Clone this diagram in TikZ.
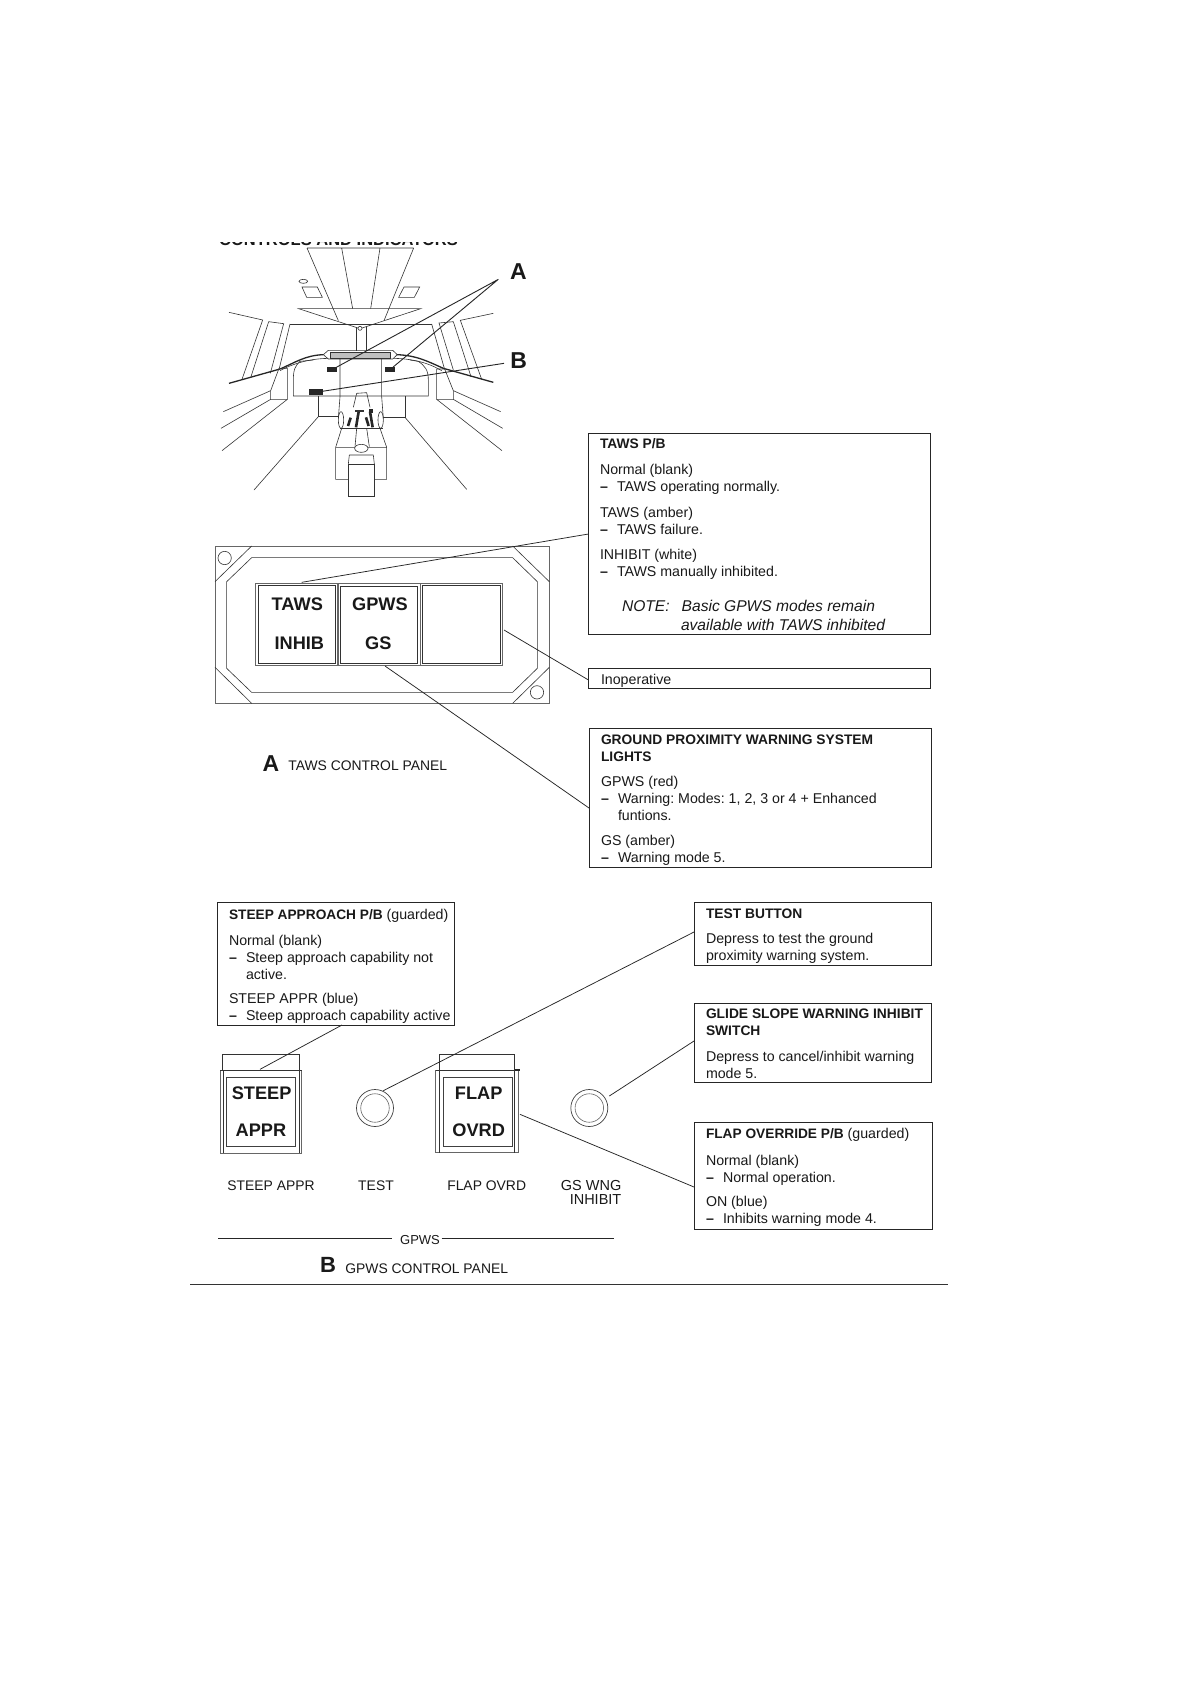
\documentclass[tikz,border=0pt]{standalone}
\usepackage{fontspec}
\setmainfont{Liberation Sans}
\frenchspacing
\newcommand{\dashitem}{\rlap{\textbf{--}}\hspace{17pt}}
\tikzset{
  x=1pt,y=-1pt,
  infobox/.style={draw=black!85,line width=1pt,fill=none,anchor=north west,inner sep=0pt,outer sep=0pt},
  body/.style={anchor=north west,inner sep=0pt,outer sep=0pt,font=\fontsize{14.2}{17}\selectfont\frenchspacing,align=left,text=black!90},
  headtxt/.style={body,font=\fontsize{13.8}{17}\bfseries\selectfont},
  notetxt/.style={body,font=\fontsize{15.6}{18.8}\itshape\selectfont\frenchspacing},
  lbl/.style={anchor=center,inner sep=0pt,outer sep=0pt,font=\fontsize{13.9}{14}\selectfont,text=black!90,align=right},
  bigletter/.style={anchor=center,inner sep=0pt,outer sep=0pt,font=\fontsize{23}{23}\bfseries\selectfont,text=black!90},
  keytxt/.style={anchor=center,inner sep=0pt,outer sep=0pt,font=\fontsize{18.2}{18}\bfseries\selectfont,text=black!90},
  leadline/.style={draw=black!85,line width=.75pt},
  fine/.style={draw=black!80,line width=.6pt},
  gr/.style={draw=black!60,line width=.9pt},
  sect/.style={fill=black!85},
  slat/.style={draw=black!85,line width=2.6pt},
}
\begin{document}
\begin{tikzpicture}
\useasboundingbox[fill=white] (0,0) rectangle (1190,1684);
% clipped heading
\begin{scope}
\clip (200,242) rectangle (480,245.5);
\node[anchor=base west,inner sep=0pt,font=\fontsize{16.5}{16}\bfseries\selectfont,text=black!90] (head) at (219,245.5) {CONTROLS AND INDICATORS};
\end{scope}
% cockpit sketch, in zoom coordinates
\begin{scope}[shift={(180,220)},scale=0.33333]
\draw[fine] (381,84) -- (701,84) (381,84) -- (475,302) (701,84) -- (612,302)
  (485,84) -- (518,266) (600,84) -- (572,266);
\draw[fine] (356,266) -- (722,266) -- (540,326) -- cycle;
\draw[fine] (370,184) ellipse (13 and 6);
\draw[fine] (366,201) -- (412,201) -- (427,232) -- (380,232) -- cycle;
\draw[fine] (672,201) -- (719,201) -- (703,232) -- (656,232) -- cycle;
\draw[fine] (147,277) -- (248,300) -- (186,478)
  (266,305) -- (311,311) -- (271,460) (266,305) -- (213,470);
\draw[fine] (940,280) -- (841,301) -- (905,478)
  (820,305) -- (777,309) -- (820,450) (820,305) -- (873,470);
\draw[fine] (330,312) -- (755,312);
\draw[fine] (330,312) -- (298,445) (755,312) -- (793,445);
\draw[fine] (528,322) -- (528,392) (558,322) -- (558,392);
\draw[fine,fill=white] (540,325) circle (6);
\draw[black!85,line width=1.3pt] (147,490) -- (300,447) .. controls (345,428) and (375,406) .. (430,404);
\draw[fine] (300,452) .. controls (350,425) and (400,416) .. (445,415);
\draw[black!85,line width=1.3pt] (940,487) -- (790,445) .. controls (745,425) and (710,406) .. (650,404);
\draw[fine] (785,452) .. controls (740,425) and (690,416) .. (640,415);
\draw[fine] (430,404) -- (445,391) -- (638,391) -- (652,404) -- (638,417) -- (445,417) -- cycle;
\draw[fine,fill=black!25] (452,397) rectangle (632,414);
\draw[fine] (400,420) -- (360,424) .. controls (345,438) and (340,450) .. (340,480) -- (340,528) -- (745,528) -- (745,480) .. controls (745,450) and (735,438) .. (715,424) -- (690,420);
\draw[fine] (480,417) -- (480,530) -- (475,595) (605,417) -- (605,530) -- (610,595);
\draw[fine] (415,528) -- (415,590) -- (475,590) (675,528) -- (675,592) -- (610,592);
\draw[fine] (297,445) -- (322,445) -- (322,538) -- (272,538) -- (272,512) -- (297,445);
\draw[fine] (770,447) -- (794,447) -- (820,512) -- (820,538) -- (770,538) -- cycle;
\draw[fine] (272,512) -- (130,575) (272,538) -- (123,625) (322,538) -- (126,692);
\draw[fine] (820,512) -- (962,575) (820,538) -- (968,625) (770,538) -- (966,692);
\draw[fine] (415,590) -- (222,810) (675,592) -- (860,808);
% throttle console
\draw[fine] (520,562) -- (530,520) -- (560,518) -- (570,562);
\draw[fine] (480,625) -- (610,625);
\draw[fine] (483,600) ellipse (8 and 25) (602,600) ellipse (8 and 25);
\draw[fine] (485,625) -- (467,682) -- (467,778) -- (505,778) (600,625) -- (620,682) -- (620,778) -- (583,778) (467,682) -- (620,682);
\draw[fine] (530,625) -- (525,680) (560,625) -- (568,680);
\draw[slat] (504,618) -- (512,593);
\draw[slat] (528,622) -- (536,575);
\draw[slat] (558,592) -- (566,618);
\draw[slat] (578,622) -- (570,575);
\draw[fine] (525,570) rectangle (550,575);
\fill[black!85] (568,568) rectangle (580,578);
\draw[fine] (508,705) -- (580,705) (508,705) -- (505,732) (580,705) -- (583,732);
\draw[fine] (505,732) rectangle (583,828);
\draw[fine,fill=white] (544,685) ellipse (20 and 12);
\node[sect,inner sep=0pt,minimum width=9.3pt,minimum height=4.6pt] (pa) at (456,449) {};
\node[sect,inner sep=0pt,minimum width=9.3pt,minimum height=4.6pt] (pb) at (630,449) {};
\node[sect,inner sep=0pt,minimum width=14pt,minimum height=6pt] (pc) at (407,517) {};
\coordinate (la) at (955,178);
\coordinate (lb) at (972,430);
\node[bigletter] (A) at (1015,156) {A};
\node[bigletter] (B) at (1016,423) {B};
\draw[draw=black!85,line width=.9pt] (pa) -- (la) -- (pb);
\draw[draw=black!85,line width=.9pt] (pc) -- (lb);
\end{scope}
% TAWS panel
\begin{scope}[shift={(200,530)},scale=0.33333]
\draw[gr] (45,48) rectangle (1048,520);
\draw[fine] (155,83) -- (938,83) -- (1012,155) -- (1012,415) -- (938,487) -- (155,487) -- (80,415) -- (80,155) -- cycle;
\draw[fine] (155,48) -- (45,155) (938,48) -- (1048,155) (45,412) -- (155,520) (1048,412) -- (938,520);
\draw[fine] (74,84) circle (20) (1011,487) circle (20);
\node[gr,rectangle,minimum width=82pt,minimum height=82pt,inner sep=0pt] (k1) at (290,283) {};
\node[gr,rectangle,minimum width=82pt,minimum height=82pt,inner sep=0pt] (k2) at (537,283) {};
\node[gr,rectangle,minimum width=82pt,minimum height=82pt,inner sep=0pt] (k3) at (785,283) {};
\draw[fine] (175,167) rectangle (406,400) (420,168) rectangle (653,400) (666,167) rectangle (902,400);
\node[keytxt] (t1) at (292,224) {TAWS};
\node[keytxt] (t2) at (298,339) {INHIB};
\node[keytxt] (t3) at (540,224) {GPWS};
\node[keytxt] (t4) at (535,339) {GS};
\coordinate (k1c) at (305,157);
\coordinate (k2c) at (555,408);
\coordinate (k3c) at (912,300);
\node[bigletter,anchor=west] (la2) at (188,701) {A};
\node[lbl,anchor=west] (lt) at (265,708) {TAWS CONTROL PANEL};
\end{scope}
% Boxes
\node[infobox,minimum width=342pt,minimum height=201pt] (b1) at (588.5,433) {};
\node[headtxt] (b1a) at (600,438.2) {TAWS P/B};
\node[body] (b1b) at (600,464) {Normal (blank)\\\dashitem TAWS operating normally.};
\node[body] (b1c) at (600,507) {TAWS (amber)\\\dashitem TAWS failure.};
\node[body] (b1d) at (600,549) {INHIBIT (white)\\\dashitem TAWS manually inhibited.};
\node[notetxt] (b1e) at (622,600.5) {NOTE:\hspace{12pt}Basic GPWS modes remain\\\hspace{59pt}available with TAWS inhibited};
\node[infobox,minimum width=342pt,minimum height=20pt] (b2) at (588.5,668) {};
\node[body] (b2a) at (601,674) {Inoperative};
\node[infobox,minimum width=342pt,minimum height=139pt] (b3) at (589,728) {};
\node[headtxt] (b3a) at (601,735) {GROUND PROXIMITY WARNING SYSTEM\\LIGHTS};
\node[body] (b3b) at (601,776) {GPWS (red)\\\dashitem Warning: Modes: 1, 2, 3 or 4 + Enhanced\\\hspace{17pt}funtions.};
\node[body] (b3c) at (601,835.5) {GS (amber)\\\dashitem Warning mode 5.};
\node[infobox,minimum width=237pt,minimum height=123pt] (b4) at (217,902) {};
\node[body] (b4a) at (229,909) {\textbf{\fontsize{13.7}{17}\selectfont STEEP APPROACH P/B} (guarded)};
\node[body] (b4b) at (229,935) {Normal (blank)\\\dashitem Steep approach capability not\\\hspace{17pt}active.};
\node[body] (b4c) at (229,993.5) {STEEP APPR (blue)\\\dashitem Steep approach capability active};
\node[infobox,minimum width=237pt,minimum height=63pt] (b5) at (694,902) {};
\node[headtxt] (b5a) at (706,909) {TEST BUTTON};
\node[body] (b5b) at (706,933.5) {Depress to test the ground\\proximity warning system.};
\node[infobox,minimum width=237pt,minimum height=79pt] (b6) at (694,1003) {};
\node[headtxt] (b6a) at (706,1008.5) {GLIDE SLOPE WARNING INHIBIT\\SWITCH};
\node[body] (b6b) at (706,1051) {Depress to cancel/inhibit warning\\mode 5.};
\node[infobox,minimum width=238pt,minimum height=107pt] (b7) at (694,1122) {};
\node[body] (b7a) at (706,1128.5) {\textbf{\fontsize{13.7}{17}\selectfont FLAP OVERRIDE P/B} (guarded)};
\node[body] (b7b) at (706,1155) {Normal (blank)\\\dashitem Normal operation.};
\node[body] (b7c) at (706,1196) {ON (blue)\\\dashitem Inhibits warning mode 4.};
% GPWS panel
\begin{scope}[shift={(200,1020)},scale=0.33333]
\draw[fine] (68,150) -- (68,102) -- (297,102) -- (297,150);
\draw[gr] (60,150) rectangle (305,400);
\draw[fine] (60,150) -- (305,150) (70,150) -- (70,400) (297,150) -- (297,400);
\node[gr,draw=black!75,rectangle,minimum width=69pt,minimum height=69pt,inner sep=0pt] (s1) at (183,276.5) {};
\node[keytxt] (s1a) at (185,220) {STEEP};
\node[keytxt] (s1b) at (183,330) {APPR};
\draw[fine] (718,150) -- (718,103) -- (944,103) -- (944,150);
\draw[gr] (707,150) rectangle (955,398);
\draw[fine] (707,150) -- (955,150) (718,150) -- (718,398) (944,150) -- (944,398);
\fill[black!85] (945,147) rectangle (959,154);
\node[gr,draw=black!75,rectangle,minimum width=69pt,minimum height=69pt,inner sep=0pt] (f1) at (833,276.5) {};
\node[keytxt] (f1a) at (836,220) {FLAP};
\node[keytxt] (f1b) at (836,330) {OVRD};
\node[circle,draw=black!75,line width=.7pt,minimum size=37pt,inner sep=0pt] (tb) at (525,264) {};
\node[circle,draw=black!60,line width=.6pt,minimum size=28.5pt,inner sep=0pt] (tbi) at (525,264) {};
\node[circle,draw=black!75,line width=.7pt,minimum size=37pt,inner sep=0pt] (gb) at (1168,264) {};
\node[circle,draw=black!60,line width=.6pt,minimum size=28.5pt,inner sep=0pt] (gbi) at (1168,264) {};
\coordinate (s1c) at (180,148);
\coordinate (f1c) at (960,283);
\coordinate (tbc) at (550,212);
\coordinate (gbc) at (1228,228);
\node[lbl] (l1) at (213,498) {STEEP APPR};
\node[lbl] (l2) at (528,498) {TEST};
\node[lbl] (l3) at (860,498) {FLAP OVRD};
\node[lbl,anchor=north east,font=\fontsize{14.5}{14.6}\selectfont] (l4) at (1264,480) {GS WNG\\INHIBIT};
\node[lbl,font=\fontsize{13}{13}\selectfont] (gp) at (660,659) {GPWS};
\coordinate (gl) at (55,655);
\coordinate (gla) at (575,655);
\coordinate (grb) at (725,655);
\coordinate (grc) at (1242,655);
\draw[draw=black!85,line width=.8pt] (gl) -- (gla);
\draw[draw=black!85,line width=.8pt] (grb) -- (grc);
\node[bigletter,anchor=west,font=\fontsize{22}{22}\bfseries\selectfont] (lb2) at (360,736) {B};
\node[lbl,anchor=west] (lt2) at (436,745) {GPWS CONTROL PANEL};
\end{scope}
\coordinate (rl) at (190,1284.2);
\coordinate (rr) at (948,1284.2);
\draw[draw=black!80,line width=.9pt] (rl) -- (rr);
% leader ends on the boxes
\coordinate (e1) at (588.5,534);
\coordinate (e2) at (588.5,680);
\coordinate (e3) at (589,808);
\coordinate (e4) at (342,1025);
\coordinate (e5) at (694,932);
\coordinate (e6) at (694,1041);
\coordinate (e7) at (694,1187);
\draw[leadline] (k1c) -- (e1);
\draw[leadline] (k3c) -- (e2);
\draw[leadline] (k2c) -- (e3);
\draw[leadline] (s1c) -- (e4);
\draw[leadline] (tbc) -- (e5);
\draw[leadline] (gbc) -- (e6);
\draw[leadline] (f1c) -- (e7);
\end{tikzpicture}
\end{document}
